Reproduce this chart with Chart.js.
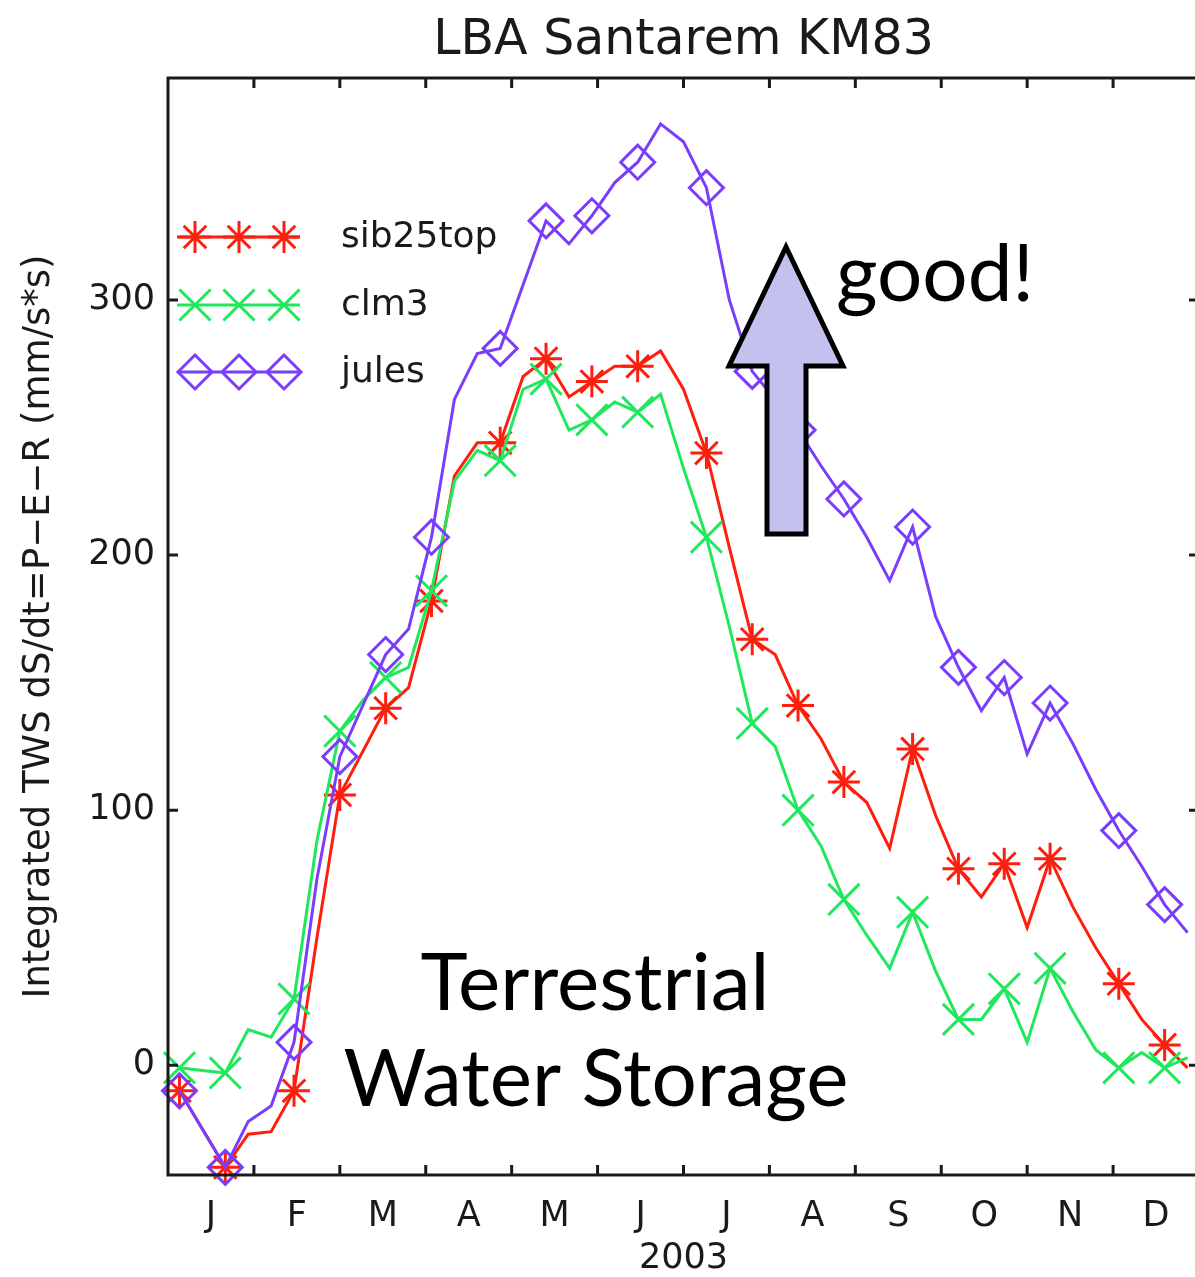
<!DOCTYPE html>
<html>
<head>
<meta charset="utf-8">
<title>LBA Santarem KM83</title>
<script src="https://cdn.jsdelivr.net/npm/chart.js@4.4.1/dist/chart.umd.min.js"></script>
<style>
  html, body { margin: 0; padding: 0; background: #ffffff; overflow: hidden; }
  canvas { display: block; }
</style>
</head>
<body>
<canvas id="tws" width="1200" height="1277" style="width:1200px;height:1277px"></canvas>
<script>
// Month initials along the x axis (one per month of 2003)
const monthLabels = ['J', 'F', 'M', 'A', 'M', 'J', 'J', 'A', 'S', 'O', 'N', 'D'];
// Labelled y ticks
const yTickValues = [0, 100, 200, 300];

// Integrated TWS dS/dt = P - E - R, 8-day periods through 2003 (mm)
const sib25top = [
  -10, -25, -40, -27, -26, -10, 50, 106, 123, 140,
  148, 182, 231, 244, 244, 270, 277, 262, 268, 274,
  274, 280, 265, 240, 203, 167, 161, 141, 128, 111,
  103, 85, 124, 98, 77, 66, 79, 54, 81, 62,
  46, 32, 18, 8, -1
];
const clm3 = [
  -1, -2, -3, 14, 11, 26, 88, 131, 143, 152,
  156, 186, 229, 241, 237, 265, 269, 249, 253, 260,
  256, 263, 234, 207, 172, 134, 125, 100, 86, 65,
  51, 38, 60, 37, 18, 18, 30, 9, 38, 21,
  6, -1, 5, -1, 3
];
const jules = [
  -10, -25, -40, -22, -16, 9, 73, 121, 141, 161,
  171, 207, 261, 279, 281, 306, 331, 322, 333, 346,
  354, 369, 362, 344, 300, 272, 261, 249, 235, 222,
  207, 190, 211, 176, 156, 139, 152, 122, 142, 126,
  108, 92, 78, 63, 52
];

const RED = '#ff1e0e';
const GREEN = '#1fe85c';
const PURPLE = '#7b3dfc';
const AXIS_FONT = 'DejaVu Sans';
const TEXT = '#1a1a1a';

// Place each period at its centre on a 12-month axis
function toPoints(values) {
  const n = values.length;
  return values.map((v, i) => ({ x: (i + 0.5) * monthLabels.length / n, y: v }));
}

// Markers are spread evenly: 20 of them along each series
const MARKER_COUNT = 20;
function markerSet(n) {
  const s = new Set();
  for (let k = 0; k < MARKER_COUNT; k++) s.add(Math.round(k * n / MARKER_COUNT));
  return s;
}

function makeSeries(label, values, color, style, radius, order, hollow) {
  const marks = markerSet(values.length);
  return {
    label,
    data: toPoints(values),
    borderColor: color,
    borderWidth: 3,
    tension: 0,
    fill: false,
    order,
    pointStyle: style,
    pointRadius: (c) => (marks.has(c.dataIndex) ? radius : 0),
    pointHoverRadius: (c) => (marks.has(c.dataIndex) ? radius : 0),
    pointBorderColor: color,
    pointBackgroundColor: hollow ? 'rgba(0,0,0,0)' : color,
    pointBorderWidth: 3,
    legendRadius: radius,
    clip: false
  };
}

const datasets = [
  makeSeries('sib25top', sib25top, RED, 'star', 16, 3, false),
  makeSeries('clm3', clm3, GREEN, 'crossRot', 22, 2, false),
  makeSeries('jules', jules, PURPLE, 'rectRot', 17, 1, true)
];

// Axes box with inward ticks on all four sides
const framePlugin = {
  id: 'frame',
  afterDatasetsDraw(chart) {
    const { ctx, chartArea: a, scales: { x, y } } = chart;
    const L = 10;
    ctx.save();
    ctx.strokeStyle = TEXT;
    ctx.lineWidth = 3;
    ctx.strokeRect(a.left, a.top, a.right - a.left, a.bottom - a.top);
    ctx.beginPath();
    for (let m = 1; m < monthLabels.length; m++) {
      const px = x.getPixelForValue(m);
      ctx.moveTo(px, a.bottom); ctx.lineTo(px, a.bottom - L);
      ctx.moveTo(px, a.top); ctx.lineTo(px, a.top + L);
    }
    yTickValues.forEach((v) => {
      const py = y.getPixelForValue(v);
      ctx.moveTo(a.left, py); ctx.lineTo(a.left + L, py);
      ctx.moveTo(a.right, py); ctx.lineTo(a.right - L, py);
    });
    ctx.stroke();
    ctx.restore();
  }
};

// Legend inside the axes: line with three markers, then the name
function drawMarker(ctx, ds, px, py) {
  const opts = { pointStyle: ds.pointStyle, rotation: 0, radius: ds.legendRadius, borderWidth: ds.pointBorderWidth };
  ctx.strokeStyle = ds.pointBorderColor;
  ctx.fillStyle = ds.pointBackgroundColor;
  ctx.lineWidth = ds.pointBorderWidth;
  if (Chart.helpers && Chart.helpers.drawPoint) {
    Chart.helpers.drawPoint(ctx, opts, px, py);
  }
}

const legendPlugin = {
  id: 'insideLegend',
  afterDraw(chart) {
    const { ctx, chartArea: a } = chart;
    const rows = [237, 305, 372];
    const x0 = a.left + 9, x1 = a.left + 132;
    ctx.save();
    chart.data.datasets.forEach((ds, i) => {
      const yy = rows[i];
      ctx.strokeStyle = ds.borderColor;
      ctx.lineWidth = 3;
      ctx.beginPath();
      ctx.moveTo(x0, yy); ctx.lineTo(x1, yy);
      ctx.stroke();
      [a.left + 27, a.left + 71, a.left + 116].forEach((mx) => drawMarker(ctx, ds, mx, yy));
      ctx.fillStyle = TEXT;
      ctx.font = '36px "' + AXIS_FONT + '"';
      ctx.textAlign = 'left';
      ctx.textBaseline = 'middle';
      ctx.fillText(ds.label, a.left + 173, yy + 1);
    });
    ctx.restore();
  }
};

// Call-outs: the up arrow, "good!" and the storage caption
const notesPlugin = {
  id: 'notes',
  afterDraw(chart) {
    const { ctx } = chart;
    ctx.save();
    ctx.beginPath();
    ctx.moveTo(786, 247);
    ctx.lineTo(843, 366);
    ctx.lineTo(806, 366);
    ctx.lineTo(806, 534);
    ctx.lineTo(767, 534);
    ctx.lineTo(767, 366);
    ctx.lineTo(729, 366);
    ctx.closePath();
    ctx.fillStyle = '#c3c1ee';
    ctx.fill();
    ctx.lineJoin = 'miter';
    ctx.lineWidth = 5;
    ctx.strokeStyle = '#000000';
    ctx.stroke();

    ctx.fillStyle = '#000000';
    ctx.textBaseline = 'alphabetic';
    ctx.font = '80px Lato';
    ctx.textAlign = 'left';
    ctx.fillText('good!', 836, 301);
    ctx.textAlign = 'center';
    ctx.fillText('Terrestrial', 595, 1010);
    ctx.fillText('Water Storage', 596, 1106);
    ctx.restore();
  }
};

new Chart(document.getElementById('tws'), {
  type: 'line',
  data: { datasets },
  plugins: [framePlugin, legendPlugin, notesPlugin],
  options: {
    responsive: false,
    devicePixelRatio: 1,
    animation: false,
    events: [],
    layout: { autoPadding: false, padding: { left: 0, right: 1, top: 0, bottom: 0 } },
    plugins: {
      legend: { display: false },
      tooltip: { enabled: false },
      title: {
        display: true,
        text: 'LBA Santarem KM83',
        fullSize: false,
        color: TEXT,
        font: { family: AXIS_FONT, size: 49, weight: 'normal', lineHeight: 1.2 },
        padding: { top: 12, bottom: 7.2 }
      }
    },
    scales: {
      x: {
        type: 'linear',
        min: 0,
        max: monthLabels.length,
        grid: { display: false, drawTicks: false },
        border: { display: false },
        afterBuildTicks: (s) => { s.ticks = monthLabels.map((_, i) => ({ value: i + 0.5 })); },
        afterFit: (s) => { s.height = 102; s.paddingLeft = 0; s.paddingRight = 0; },
        ticks: {
          autoSkip: false,
          maxRotation: 0,
          padding: 21,
          color: TEXT,
          font: { family: AXIS_FONT, size: 35 },
          callback: (v, i) => monthLabels[i]
        },
        title: {
          display: true,
          text: '2003',
          color: TEXT,
          font: { family: AXIS_FONT, size: 35, lineHeight: 1.2 },
          padding: { top: 0, bottom: -3 }
        }
      },
      y: {
        type: 'linear',
        min: -43,
        max: 387,
        grid: { display: false, drawTicks: false },
        border: { display: false },
        afterBuildTicks: (s) => { s.ticks = yTickValues.map((v) => ({ value: v })); },
        afterFit: (s) => { s.width = 168; s.paddingTop = 0; s.paddingBottom = 0; },
        ticks: {
          padding: 13,
          color: TEXT,
          font: { family: AXIS_FONT, size: 35 },
          callback: (v) => String(v)
        },
        title: {
          display: true,
          text: 'Integrated TWS dS/dt=P\u2212E\u2212R (mm/s*s)',
          color: TEXT,
          font: { family: AXIS_FONT, size: 37, lineHeight: 1.2 },
          padding: { top: 17, bottom: 0 }
        }
      }
    }
  }
});
</script>
</body>
</html>
